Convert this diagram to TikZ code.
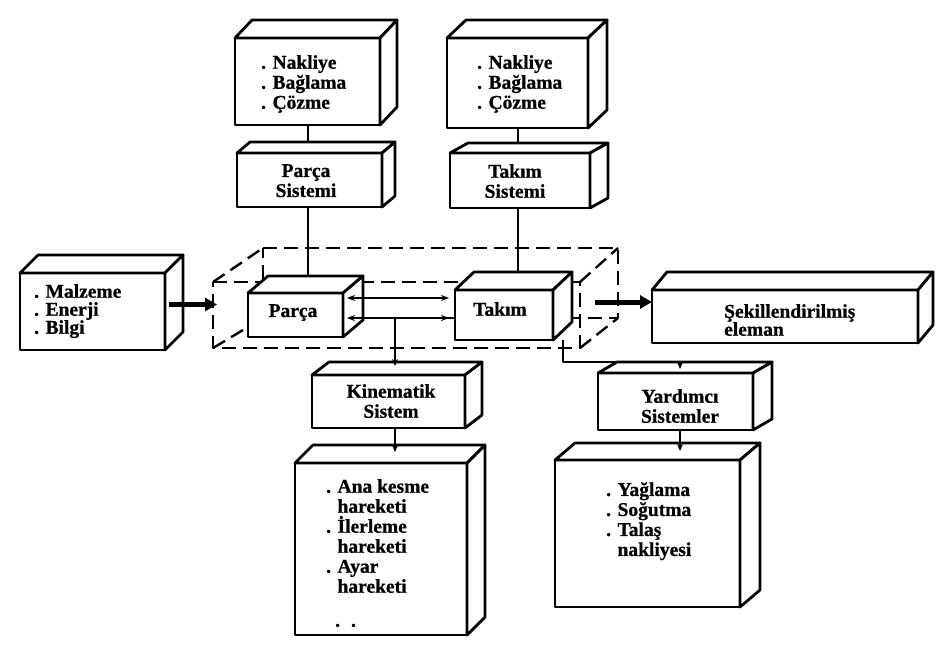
\documentclass[tikz,border=0pt]{standalone}
\usepackage{fontspec}
\setmainfont{Liberation Serif}[BoldFeatures={FakeBold=0.8}]
\usetikzlibrary{arrows.meta,calc,backgrounds}
\newcommand{\cubebox}[7]{%
  \node[face, minimum width={(#4-#2)*1pt}, minimum height={(#5-#3)*1pt}] (#1) at ({(#2+#4)/2},{(#3+#5)/2}) {};
  \draw[facel] (#1.north west) -- ++(#6,-#7) -- ([shift={(#6,-#7)}]#1.north east) -- (#1.north east) -- cycle;
  \draw[facel] (#1.north east) -- ++(#6,-#7) -- ([shift={(#6,-#7)}]#1.south east) -- (#1.south east) -- cycle;
}
\begin{document}
\begin{tikzpicture}[x=1pt,y=-1pt,line join=round,
  face/.style={draw, line width=2.8pt, fill=white, inner sep=0pt, outer sep=0pt},
  facel/.style={draw, line width=2.8pt, fill=white},
  lbl/.style={inner sep=0pt, align=left, font=\bfseries\fontsize{19.5}{20}\selectfont},
  lblc/.style={lbl, align=center},
  conn/.style={line width=2.2pt},
  tip/.style={-{Stealth[length=7pt,width=6pt]}},
  dbl/.style={line width=2.2pt, {Stealth[length=8pt,width=6pt]}-{Stealth[length=8pt,width=6pt]}},
  bigarrow/.style={line width=5pt, -{Triangle[length=12pt,width=13pt]}},
  dsh/.style={line width=2.4pt, dash pattern=on 14pt off 7pt}
]
\useasboundingbox (0,0) rectangle (952,657);

% dashed enclosing box
\coordinate (dA) at (213,282);
\coordinate (dB) at (580,282);
\coordinate (dC) at (580,348);
\coordinate (dD) at (213,348);
\coordinate (dE) at (263,248);
\coordinate (dF) at (618,248);
\coordinate (dG) at (618,318);
\coordinate (dH) at (263,318);
\draw[dsh] (dA) -- (dB) -- (dC) -- (dD) -- cycle;
\draw[dsh] (dE) -- (dF) -- (dG) -- (dH) -- cycle;
\draw[dsh] (dA) -- (dE) (dB) -- (dF) (dC) -- (dG) (dD) -- (dH);

% boxes
\cubebox{nak1}{235}{38}{380}{125}{17}{18}
\cubebox{parsis}{237}{153}{382}{207}{13}{11}
\cubebox{nak2}{447}{38}{588}{128}{19}{18}
\cubebox{taksis}{450}{153}{590}{208}{18}{10}
\cubebox{malz}{20}{273}{165}{350}{18}{18}
\cubebox{parca}{248}{293}{343}{337}{20}{17}
\cubebox{takim}{455}{290}{553}{340}{19}{18}
\cubebox{sekil}{652}{290}{918}{343}{15}{18}
\cubebox{kine}{312}{375}{465}{428}{17}{13}
\cubebox{ana}{295}{463}{467}{635}{18}{18}
\cubebox{yard}{598}{373}{753}{430}{19}{11}
\cubebox{yag}{555}{460}{740}{607}{20}{17}

% connectors behind boxes
\begin{pgfonlayer}{background}
\coordinate (pl) at (308,0);
\coordinate (tl) at (518,0);
\draw[conn] (nak1.south -| pl) -- (parsis.north -| pl);
\draw[conn] (parsis.south -| pl) -- (parca.north -| pl);
\draw[conn] (nak2.south -| tl) -- (taksis.north -| tl);
\draw[conn] (taksis.south -| tl) -- (takim.north -| tl);
\end{pgfonlayer}

% texts
\node[lbl, anchor=north west, font=\bfseries\fontsize{19.5}{18}\selectfont] (tmalz) at (34,284) {. Malzeme\\. Enerji\\. Bilgi};
\node[lbl, anchor=north west] (tnak1) at (261,55) {. Nakliye\\. Bağlama\\. Çözme};
\node[lbl, anchor=north west] (tnak2) at (477,55) {. Nakliye\\. Bağlama\\. Çözme};
\node[lblc, anchor=north] (tparsis) at (306,164) {Parça\\Sistemi};
\node[lblc, anchor=north] (ttaksis) at (515,164) {Takım\\Sistemi};
\node[lbl, anchor=north] (tparca) at (293,304) {Parça};
\node[lbl, anchor=north] (ttakim) at (500,302) {Takım};
\node[lbl, anchor=north west, font=\bfseries\fontsize{19.5}{18}\selectfont] (tsekil) at (724,304) {Şekillendirilmiş\\eleman};
\node[lblc, anchor=north] (tkine) at (391,384) {Kinematik\\Sistem};
\node[lblc, anchor=north] (tyard) at (680,389) {Yardımcı\\Sistemler};
\node[lbl, anchor=north west] (tana) at (326,479) {. Ana kesme\\\phantom{. }hareketi\\. İlerleme\\\phantom{. }hareketi\\. Ayar\\\phantom{. }hareketi\\[14pt]\hspace{9pt}.\hspace{11pt}.};
\node[lbl, anchor=north west] (tyag) at (606,482) {. Yağlama\\. Soğutma\\. Talaş\\\phantom{. }nakliyesi};

% arrows between Parça and Takım
\draw[dbl] ([shift={(4,-17)}]parca.east) -- ([shift={(-6,-17)}]takim.west);
\draw[dbl] ([shift={(4,3)}]parca.east) -- ([shift={(-6,3)}]takim.west);

% kinematic system
\coordinate (kin1) at (395,318);
\draw[conn, tip] (kin1) -- ($(kin1 |- kine.north)+(0,-9)$);
\draw[conn, tip] (kin1 |- kine.south) -- ($(kin1 |- ana.north)+(0,-11)$);

% auxiliary systems
\coordinate (y0) at (563,340);
\coordinate (ycorner) at (680,362);
\draw[conn, tip] (y0) |- (ycorner) -- ($(ycorner |- yard.north)+(0,-4)$);
\draw[conn, tip] (ycorner |- yard.south) -- ($(ycorner |- yag.north)+(0,-9)$);

% big arrows
\draw[bigarrow] ([shift={(4,-7)}]malz.east) -- ([shift={(4,-7)}]malz.east -| dA);
\coordinate (outS) at (595,302);
\draw[bigarrow] (outS) -- (outS -| sekil.west);
\end{tikzpicture}
\end{document}
